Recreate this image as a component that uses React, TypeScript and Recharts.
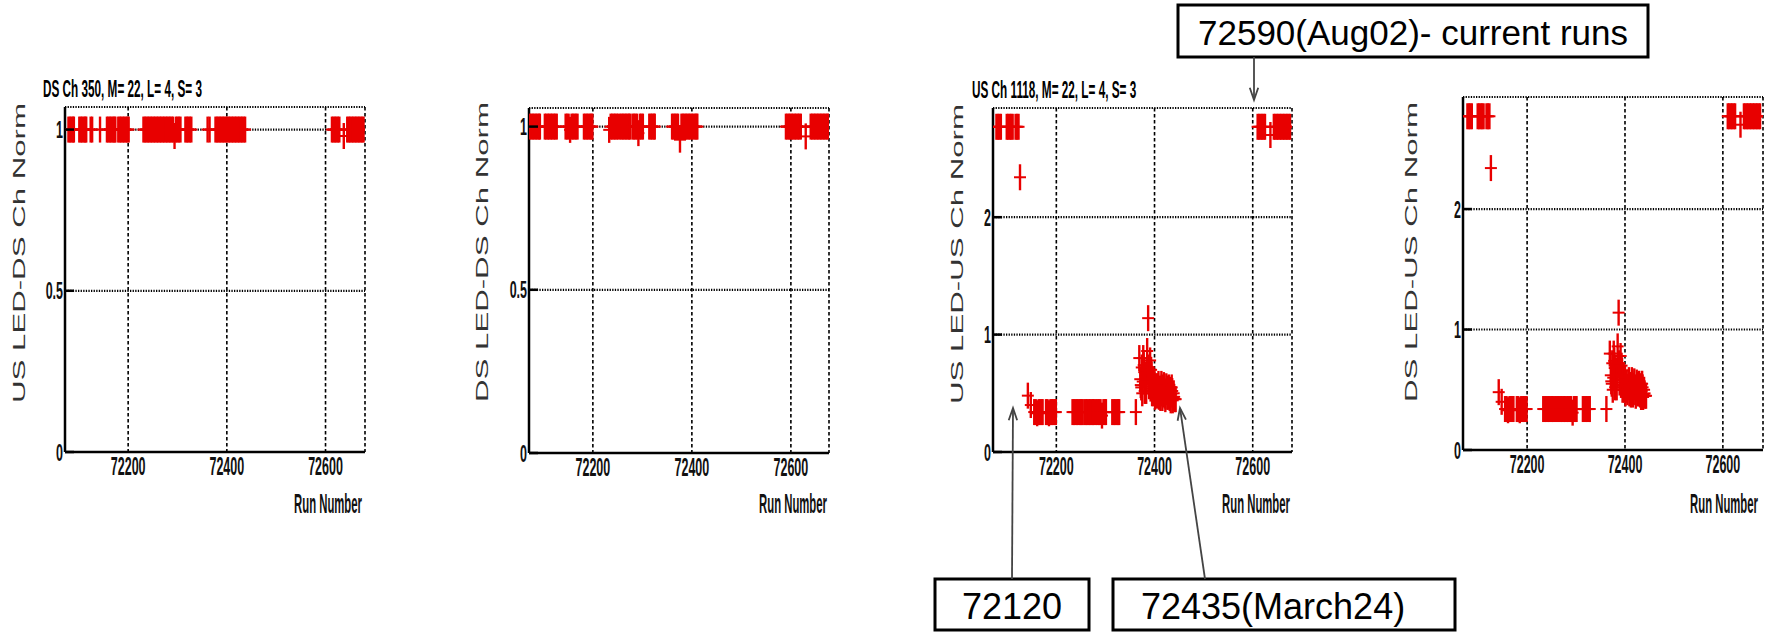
import React from 'react';
import { ScatterChart, Scatter, XAxis, YAxis, CartesianGrid } from 'recharts';

type Pt = [number, number];

// ---------- data ----------
const runTicks = [72200, 72400, 72600];
const normTicksLow = [0, 0.5, 1];
const normTicksHigh = [0, 1, 2];

const panelTitles = ['DS Ch 350, M= 22, L= 4, S= 3', '', 'US Ch 1118, M= 22, L= 4, S= 3', ''];
const yTitles = ['US LED-DS Ch Norm', 'DS LED-DS Ch Norm', 'US LED-US Ch Norm', 'DS LED-US Ch Norm'];
const xTitle = 'Run Number';
const calloutTexts = ['72590(Aug02)- current runs', '72120', '72435(March24)'];

// US LED / DS Ch 350
const usLedDsCh350: Pt[] = [
  [72079, 1.0], [72082, 1.0], [72085, 1.0], [72088, 1.0], [72090, 1.0],
  [72101, 1.0], [72104, 1.0], [72107, 1.0], [72110, 1.0], [72113, 1.0], [72115, 1.0],
  [72124, 1.0], [72127, 1.0], [72143, 1.0],
  [72157, 1.0], [72160, 1.0], [72163, 1.0], [72166, 1.0], [72169, 1.0], [72172, 1.0], [72174, 1.0],
  [72180, 1.0], [72183, 1.0], [72186, 1.0], [72189, 1.0], [72192, 1.0], [72195, 1.0], [72198, 1.0], [72201, 1.0],
  [72231, 1.0], [72234, 1.0], [72237, 1.0], [72240, 1.0], [72243, 1.0], [72246, 1.0], [72249, 1.0], [72252, 1.0], [72255, 1.0],
  [72258, 1.0], [72261, 1.0], [72264, 1.0], [72267, 1.0], [72270, 1.0], [72273, 1.0], [72276, 1.0], [72279, 1.0],
  [72282, 1.0], [72285, 1.0], [72288, 1.0], [72291, 1.0], [72294, 0.98], [72297, 1.0], [72300, 1.0], [72303, 1.0], [72306, 1.0],
  [72316, 1.0], [72319, 1.0], [72322, 1.0], [72325, 1.0], [72328, 1.0],
  [72361, 1.0], [72365, 1.0],
  [72377, 1.0], [72380, 1.0], [72383, 1.0], [72386, 1.0], [72389, 1.0], [72392, 1.0], [72395, 1.0], [72398, 1.0],
  [72401, 1.0], [72404, 1.0], [72407, 1.0], [72410, 1.0], [72413, 1.0], [72416, 1.0], [72419, 1.0], [72422, 1.0],
  [72425, 1.0], [72428, 1.0], [72431, 1.0], [72434, 1.0], [72437, 1.0],
  [72613, 1.0], [72616, 1.0], [72619, 1.0], [72622, 1.0], [72625, 1.0], [72628, 1.0],
  [72637, 0.98],
  [72644, 1.0], [72647, 1.0], [72650, 1.0], [72653, 1.0], [72656, 1.0], [72659, 1.0], [72662, 1.0], [72665, 1.0],
  [72668, 1.0], [72671, 1.0], [72674, 1.0], [72677, 1.0],
];

// DS LED / DS Ch 350
const dsLedDsCh350: Pt[] = [
  [72073, 1.0], [72076, 1.0], [72079, 1.0], [72082, 1.0], [72085, 1.0], [72088, 1.0], [72091, 1.0], [72093, 1.0],
  [72103, 1.0], [72106, 1.0], [72109, 1.0], [72112, 1.0], [72115, 1.0], [72118, 1.0], [72121, 1.0], [72124, 1.0], [72127, 1.0],
  [72145, 1.0], [72148, 1.0], [72151, 1.0], [72154, 0.99], [72157, 1.0], [72160, 1.0], [72163, 1.0], [72166, 1.0], [72169, 1.0],
  [72182, 1.0], [72185, 1.0], [72188, 1.0], [72191, 1.0], [72194, 1.0], [72197, 1.0], [72199, 1.0],
  [72233, 0.99], [72236, 1.0], [72239, 1.0], [72242, 1.0], [72245, 1.0], [72248, 1.0], [72251, 1.0],
  [72255, 1.0], [72258, 1.0], [72261, 1.0], [72264, 1.0], [72267, 1.0], [72270, 1.0], [72273, 1.0], [72275, 1.0],
  [72280, 1.0], [72283, 1.0], [72286, 1.0], [72289, 1.0], [72292, 0.98], [72295, 1.0], [72298, 1.0], [72301, 1.0],
  [72314, 1.0], [72317, 1.0], [72320, 1.0], [72323, 1.0], [72325, 1.0],
  [72360, 1.0], [72363, 1.0], [72366, 1.0], [72369, 1.0], [72372, 1.0], [72376, 0.96], [72379, 1.0], [72382, 1.0],
  [72385, 1.0], [72388, 1.0], [72391, 1.0], [72394, 1.0], [72397, 1.0], [72400, 1.0], [72403, 1.0], [72406, 1.0],
  [72409, 1.0], [72411, 1.0],
  [72590, 1.0], [72593, 1.0], [72596, 1.0], [72599, 1.0], [72602, 1.0], [72605, 1.0], [72608, 1.0], [72611, 1.0],
  [72614, 1.0], [72617, 1.0], [72620, 1.0],
  [72630, 0.97],
  [72640, 1.0], [72643, 1.0], [72646, 1.0], [72649, 1.0], [72652, 1.0], [72655, 1.0], [72658, 1.0], [72661, 1.0],
  [72664, 1.0], [72667, 1.0], [72670, 1.0], [72673, 1.0], [72676, 1.0],
];

// LED / US Ch 1118 (US LED and DS LED panels show the same pattern)
const ledUsCh1118: Pt[] = [
  [72078, 2.77], [72081, 2.77], [72084, 2.77], [72087, 2.77],
  [72099, 2.77], [72102, 2.77], [72105, 2.77], [72108, 2.77], [72111, 2.77],
  [72117, 2.77], [72120, 2.77], [72123, 2.77],
  [72126, 2.34],
  [72142, 0.48], [72148, 0.40],
  [72155, 0.34], [72158, 0.34], [72161, 0.33], [72164, 0.34], [72167, 0.34], [72170, 0.34], [72172, 0.34],
  [72179, 0.34], [72182, 0.34], [72185, 0.33], [72188, 0.34], [72191, 0.34], [72194, 0.34], [72197, 0.34], [72199, 0.34],
  [72233, 0.34], [72236, 0.34], [72239, 0.34], [72242, 0.34], [72245, 0.34], [72248, 0.34], [72251, 0.34], [72253, 0.34],
  [72257, 0.34], [72260, 0.34], [72263, 0.34], [72266, 0.34], [72269, 0.34], [72272, 0.34], [72275, 0.34], [72277, 0.34],
  [72281, 0.34], [72284, 0.34], [72287, 0.34], [72290, 0.34], [72293, 0.31], [72296, 0.34], [72299, 0.34], [72301, 0.34],
  [72314, 0.34], [72317, 0.34], [72320, 0.34], [72323, 0.34], [72326, 0.34], [72328, 0.34],
  [72362, 0.34],
  [72369, 0.80], [72371, 0.62], [72372, 0.57], [72373, 0.55], [72374, 0.72], [72375, 0.50], [72376, 0.60],
  [72377, 0.80], [72378, 0.74], [72379, 0.68], [72380, 0.52], [72381, 0.58], [72382, 0.66], [72383, 0.52],
  [72384, 0.62], [72385, 0.86], [72386, 0.70], [72387, 1.14], [72388, 0.72], [72389, 0.56], [72390, 0.62],
  [72391, 0.78], [72392, 0.54], [72393, 0.70], [72394, 0.66], [72395, 0.50], [72396, 0.58], [72397, 0.62],
  [72398, 0.50], [72399, 0.54], [72400, 0.60], [72401, 0.47], [72402, 0.53], [72403, 0.56], [72404, 0.50],
  [72405, 0.48], [72406, 0.52], [72407, 0.56], [72408, 0.58], [72409, 0.47], [72410, 0.50], [72411, 0.54],
  [72412, 0.46], [72413, 0.50], [72414, 0.58], [72415, 0.55], [72416, 0.46], [72417, 0.49], [72418, 0.53],
  [72419, 0.57], [72420, 0.52], [72421, 0.48], [72422, 0.45], [72423, 0.51], [72424, 0.56], [72425, 0.54],
  [72426, 0.47], [72427, 0.52], [72428, 0.47], [72429, 0.55], [72430, 0.50], [72431, 0.46], [72432, 0.53],
  [72433, 0.44], [72434, 0.49], [72435, 0.55], [72436, 0.52], [72437, 0.44], [72438, 0.46], [72439, 0.50],
  [72440, 0.47], [72441, 0.45], [72443, 0.45],
  [72610, 2.77], [72613, 2.77], [72616, 2.77], [72619, 2.77], [72622, 2.77], [72625, 2.77],
  [72636, 2.70],
  [72643, 2.77], [72646, 2.77], [72649, 2.77], [72652, 2.77], [72655, 2.77], [72658, 2.77], [72661, 2.77],
  [72664, 2.77], [72667, 2.77], [72670, 2.77], [72673, 2.77], [72676, 2.77],
];

// ---------- styling / layout ----------
const RED = '#e80000';
const FONT = '"Liberation Sans", Arial, Helvetica, sans-serif';

type Panel = {
  L: number; R: number; T: number; B: number;
  x0: number; x1: number; y1: number; yTicks: number[]; data: Pt[];
};

const panels: Panel[] = [
  { L: 65, R: 365, T: 107, B: 452, x0: 72072, x1: 72680, y1: 1.07, yTicks: normTicksLow, data: usLedDsCh350 },
  { L: 529, R: 829, T: 108, B: 453, x0: 72071, x1: 72677, y1: 1.057, yTicks: normTicksLow, data: dsLedDsCh350 },
  { L: 993, R: 1292, T: 108, B: 452, x0: 72071, x1: 72680, y1: 2.93, yTicks: normTicksHigh, data: ledUsCh1118 },
  { L: 1463, R: 1763, T: 97, B: 450, x0: 72069, x1: 72682, y1: 2.93, yTicks: normTicksHigh, data: ledUsCh1118 },
];

const PlusMarker = (props: any) => {
  const { cx, cy } = props;
  if (cx == null || cy == null) return <g />;
  return (
    <g>
      <line x1={cx} x2={cx} y1={cy - 13} y2={cy + 13} stroke={RED} strokeWidth={2.4} />
      <line x1={cx - 6} x2={cx + 6} y1={cy} y2={cy} stroke={RED} strokeWidth={2} />
    </g>
  );
};

const XTick = (p: any) => {
  const { x, y, payload } = p;
  return (
    <text transform={`translate(${x},${y + 23}) scale(0.5,1)`} textAnchor="middle" fontSize={25}
      fontFamily={FONT} fontWeight="bold" fill="#111">{payload.value}</text>
  );
};

const YTick = (p: any) => {
  const { x, y, payload } = p;
  return (
    <g>
      <line x1={x} x2={x + 9} y1={y} y2={y} stroke="#000" strokeWidth={2.5} />
      <text transform={`translate(${x - 2},${y + 8.5}) scale(0.52,1)`} textAnchor="end" fontSize={24}
        fontFamily={FONT} fontWeight="bold" fill="#111">{payload.value}</text>
    </g>
  );
};

const PanelChart = ({ pan }: { pan: Panel }) => {
  const yAxisW = 60;
  const xAxisH = 40;
  const width = pan.R - pan.L + yAxisW + 10;
  const height = 632;
  const data = pan.data.map(([run, v]) => ({ run, v }));
  return (
    <div style={{ position: 'absolute', left: pan.L - yAxisW, top: 0 }}>
      <ScatterChart width={width} height={height}
        margin={{ top: pan.T, right: 10, bottom: height - pan.B - xAxisH, left: 0 }}>
        <CartesianGrid horizontal={false} stroke="#000" strokeDasharray="3.5 2.5" strokeWidth={1.6} />
        <CartesianGrid vertical={false} stroke="#000" strokeDasharray="1.3 1.3" strokeWidth={2.2} />
        <XAxis type="number" dataKey="run" domain={[pan.x0, pan.x1]} ticks={runTicks} allowDataOverflow
          interval={0} height={xAxisH} tickLine={false} tickSize={0} tickMargin={0}
          axisLine={{ stroke: '#000', strokeWidth: 2.5 }} tick={<XTick />} />
        <XAxis xAxisId="top" orientation="top" type="number" domain={[pan.x0, pan.x1]} allowDataOverflow
          height={0} tick={false} tickLine={false} axisLine={{ stroke: '#000', strokeWidth: 2.5 }} />
        <YAxis type="number" dataKey="v" domain={[0, pan.y1]} ticks={pan.yTicks} allowDataOverflow
          interval={0} width={yAxisW} tickLine={false} tickSize={0} tickMargin={0}
          axisLine={{ stroke: '#000', strokeWidth: 2.5 }} tick={<YTick />} />
        <YAxis yAxisId="right" orientation="right" type="number" domain={[0, pan.y1]} allowDataOverflow
          width={0} tick={false} tickLine={false} axisLine={{ stroke: '#000', strokeWidth: 1.5 }} />
        <Scatter data={data} shape={PlusMarker} isAnimationActive={false} />
      </ScatterChart>
    </div>
  );
};

const Arrow = ({ x1, y1, x2, y2 }: { x1: number; y1: number; x2: number; y2: number }) => {
  const ang = Math.atan2(y2 - y1, x2 - x1);
  const len = 13;
  const spread = 0.33;
  const ax = x2 - len * Math.cos(ang - spread);
  const ay = y2 - len * Math.sin(ang - spread);
  const bx = x2 - len * Math.cos(ang + spread);
  const by = y2 - len * Math.sin(ang + spread);
  return (
    <g stroke="#444" strokeWidth={1.8} fill="none">
      <line x1={x1} y1={y1} x2={x2} y2={y2} />
      <polyline points={`${ax},${ay} ${x2},${y2} ${bx},${by}`} />
    </g>
  );
};

export default function App() {
  const yTitlePos = [
    { x: 19, y: 253 },
    { x: 482, y: 252 },
    { x: 957, y: 254 },
    { x: 1411, y: 252 },
  ];
  // right ends of the "Run Number" titles
  const xTitleEnd = [362, 827, 1290, 1758];
  return (
    <div style={{ position: 'absolute', left: 0, top: 0, width: 1767, height: 632, background: '#fff', overflow: 'hidden' }}>
      {panels.map((p, i) => <PanelChart key={i} pan={p} />)}
      <svg width={1767} height={632} style={{ position: 'absolute', left: 0, top: 0, pointerEvents: 'none' }}>
        {/* panel titles */}
        {panelTitles[0] && (
          <text transform="translate(43,97) scale(0.49,1)" fontSize={24} fontFamily={FONT} fontWeight="bold"
            fill="#000">{panelTitles[0]}</text>
        )}
        {panelTitles[2] && (
          <text transform="translate(972,98) scale(0.49,1)" fontSize={24} fontFamily={FONT} fontWeight="bold"
            fill="#000">{panelTitles[2]}</text>
        )}
        {/* y titles */}
        {yTitles.map((t, i) => (
          <g key={t} transform={`translate(${yTitlePos[i].x},${yTitlePos[i].y}) rotate(-90)`}>
            <text x={-150} y={6} fontSize={17} fontFamily={FONT} fill="#333" textLength={300}
              lengthAdjust="spacingAndGlyphs">{t}</text>
          </g>
        ))}
        {/* x titles */}
        {xTitleEnd.map((x, i) => (
          <text key={i} transform={`translate(${x},513) scale(0.42,1)`} textAnchor="end" fontSize={27}
            fontFamily={FONT} fontWeight="bold" fill="#111">{xTitle}</text>
        ))}
        {/* callouts */}
        <rect x={1178} y={5} width={470} height={52} fill="#fff" stroke="#000" strokeWidth={3} />
        <text x={1198} y={45} fontSize={35} fontFamily={FONT} fill="#000">{calloutTexts[0]}</text>
        <Arrow x1={1254} y1={57} x2={1254} y2={100} />

        <rect x={935} y={579} width={154} height={51} fill="#fff" stroke="#000" strokeWidth={3} />
        <text x={1012} y={619} fontSize={36} fontFamily={FONT} fill="#000" textAnchor="middle">{calloutTexts[1]}</text>
        <Arrow x1={1012} y1={579} x2={1013} y2={408} />

        <rect x={1113} y={579} width={342} height={51} fill="#fff" stroke="#000" strokeWidth={3} />
        <text x={1141} y={619} fontSize={36} fontFamily={FONT} fill="#000">{calloutTexts[2]}</text>
        <Arrow x1={1205} y1={579} x2={1180} y2={408} />
      </svg>
    </div>
  );
}
